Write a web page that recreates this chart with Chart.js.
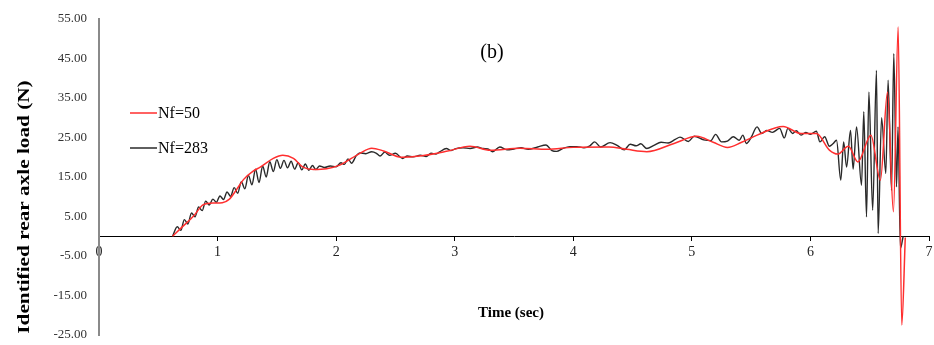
<!DOCTYPE html>
<html>
<head>
<meta charset="utf-8">
<script src="https://cdn.jsdelivr.net/npm/chart.js@4.4.1/dist/chart.umd.min.js"></script>
<style>
  html, body { margin: 0; padding: 0; background: #fff; }
  #wrap { width: 934px; height: 345px; position: relative; }
</style>
</head>
<body>
<div id="wrap"><canvas id="loadChart"></canvas></div>
<script>
// Nf=50 (smooth red curve)
var redTime = [0.62, 0.70, 0.80, 0.88, 0.97, 1.04, 1.10, 1.16, 1.22, 1.30, 1.36, 1.47, 1.55, 1.64, 1.72, 1.81, 1.92, 2.03,
  2.20, 2.30, 2.40, 2.55, 2.70, 2.93, 3.13, 3.30, 3.55, 3.78, 4.00, 4.30, 4.45, 4.62, 4.85, 5.04, 5.18, 5.30, 5.42, 5.55,
  5.77, 5.92, 6.05, 6.16, 6.23, 6.32, 6.40, 6.51, 6.59, 6.65, 6.70, 6.74, 6.77, 6.80];
var redLoad = [0, 2.3, 5.2, 8.0, 8.4, 8.5, 9.4, 11.8, 14.4, 16.5, 17.5, 19.7, 20.5, 19.7, 17.5, 16.9, 17.1, 18.0,
  21.0, 22.3, 21.6, 20.0, 20.3, 21.5, 22.8, 21.8, 22.3, 22.0, 22.5, 22.6, 22.0, 21.4, 23.5, 25.3, 23.8, 22.5, 23.8, 25.6,
  27.8, 26.0, 26.0, 21.8, 20.8, 22.8, 18.8, 25.6, 14.2, 36.5, 6.2, 53.0, -22.5, -0.3];

// Nf=283 (oscillating black curve)
var blackTime = [0.62, 0.66, 0.69, 0.72, 0.75, 0.78, 0.81, 0.84, 0.87, 0.90, 0.93, 0.96, 0.99, 1.02, 1.05, 1.08, 1.11,
  1.14, 1.17, 1.20, 1.23, 1.26, 1.29, 1.32, 1.35, 1.38, 1.41, 1.44, 1.47, 1.50, 1.53, 1.56, 1.59, 1.62, 1.65, 1.68,
  1.71, 1.74, 1.77, 1.80, 1.83, 1.86, 1.90, 1.95, 2.00, 2.04, 2.07, 2.10, 2.13, 2.17, 2.20, 2.25, 2.30, 2.34, 2.37,
  2.41, 2.45, 2.50, 2.56, 2.60, 2.65, 2.71, 2.76, 2.80, 2.84, 2.87, 2.93, 2.97, 3.01, 3.07, 3.13, 3.19, 3.24, 3.28,
  3.32, 3.38, 3.44, 3.50, 3.56, 3.62, 3.70, 3.77, 3.82, 3.86, 3.91, 3.97, 4.03, 4.09, 4.14, 4.18, 4.23, 4.31, 4.37,
  4.43, 4.48, 4.53, 4.57, 4.62, 4.68, 4.74, 4.80, 4.86, 4.90, 4.97, 5.02, 5.10, 5.16, 5.20, 5.25, 5.30, 5.35, 5.40,
  5.43, 5.46, 5.50, 5.55, 5.59, 5.63, 5.68, 5.74, 5.78, 5.81, 5.85, 5.88, 5.92, 5.96, 6.00, 6.05, 6.08, 6.12, 6.16,
  6.19, 6.22, 6.256, 6.28, 6.305, 6.338, 6.36, 6.389, 6.431, 6.45, 6.473, 6.493, 6.525, 6.557, 6.571, 6.60, 6.636,
  6.655, 6.684, 6.703, 6.726, 6.739, 6.759, 6.782];
var blackLoad = [0, 2.4, 1.5, 4.2, 3.1, 5.9, 4.9, 7.4, 6.5, 8.9, 7.9, 9.4, 8.6, 10.2, 9.3, 11.2, 10.1,
  12.3, 10.9, 13.8, 12.0, 15.4, 13.0, 17.0, 13.6, 17.8, 15.0, 18.9, 16.4, 19.4, 17.2, 19.2, 17.3, 19.0, 17.0, 18.6,
  16.8, 18.3, 16.7, 17.9, 16.9, 17.8, 17.4, 17.8, 17.6, 18.6, 18.2, 19.6, 18.5, 20.4, 21.1, 20.9, 21.4, 21.0, 20.3,
  21.3, 20.5, 21.0, 19.7, 20.3, 20.1, 20.5, 20.2, 21.0, 20.8, 21.3, 22.2, 21.7, 22.2, 22.4, 22.2, 22.6, 22.2, 22.1,
  21.4, 22.6, 21.9, 22.1, 22.4, 22.0, 22.6, 23.1, 21.7, 21.5, 22.2, 22.7, 22.7, 22.4, 22.9, 23.9, 22.6, 23.7, 23.0,
  21.9, 23.3, 22.9, 23.4, 22.2, 23.0, 23.8, 23.6, 24.5, 25.1, 24.0, 25.3, 24.4, 24.2, 25.8, 23.9, 24.1, 25.2, 24.3,
  25.6, 23.5, 25.0, 27.7, 26.0, 26.8, 26.3, 27.3, 24.9, 27.3, 26.0, 26.7, 25.6, 26.3, 25.8, 26.6, 23.9, 25.2, 22.8,
  23.4, 24.3, 14.2, 23.9, 17.5, 26.8, 17.0, 27.7, 12.9, 31.5, 4.9, 36.5, 6.6, 42.0, 0.7, 30.0, 15.9,
  39.5, 11.6, 46.2, 12.5, 27.7, -3.1, 0];

var yTicks = [-25, -15, -5, 5, 15, 25, 35, 45, 55];
var xTicks = [0, 1, 2, 3, 4, 5, 6, 7];

function toPoints(t, v) {
  return t.map(function (x, i) { return { x: x, y: v[i] }; });
}

var serif = '"Liberation Serif", "Times New Roman", serif';

// titles and legend drawn by hand to sit where the original puts them
var annotate = {
  id: 'annotate',
  afterDraw: function (chart) {
    var ctx = chart.ctx;
    ctx.save();
    ctx.fillStyle = '#000';
    ctx.textBaseline = 'middle';

    ctx.textAlign = 'center';
    ctx.font = '20px ' + serif;
    ctx.fillText('(b)', 492, 53);

    ctx.font = 'bold 15px ' + serif;
    ctx.fillText('Time (sec)', 511, 313);

    ctx.save();
    ctx.translate(25, 207);
    ctx.rotate(-Math.PI / 2);
    ctx.scale(1.25, 1);
    ctx.font = 'bold 17px ' + serif;
    ctx.fillText('Identified rear axle load (N)', 0, 0);
    ctx.restore();

    // legend
    ctx.textAlign = 'left';
    ctx.font = '16px ' + serif;
    var rows = [113, 148];
    chart.data.datasets.forEach(function (ds, i) {
      ctx.strokeStyle = ds.borderColor;
      ctx.lineWidth = 1.5;
      ctx.beginPath();
      ctx.moveTo(130, rows[i]);
      ctx.lineTo(157, rows[i]);
      ctx.stroke();
      ctx.fillStyle = '#000';
      ctx.fillText(ds.label, 158, rows[i] + 1);
    });
    ctx.restore();
  }
};

var myLoadChart = new Chart(document.getElementById('loadChart'), {
  type: 'line',
  data: {
    datasets: [{
      label: 'Nf=50',
      data: toPoints(redTime, redLoad),
      borderColor: '#ff2e2e',
      borderWidth: 1.5,
      pointRadius: 0,
      cubicInterpolationMode: 'monotone'
    }, {
      label: 'Nf=283',
      data: toPoints(blackTime, blackLoad),
      borderColor: '#2a2a2a',
      borderWidth: 1.4,
      pointRadius: 0,
      cubicInterpolationMode: 'monotone'
    }]
  },
  options: {
    responsive: true,
    maintainAspectRatio: false,
    animation: false,
    layout: { padding: { left: 0, right: 5, top: 19, bottom: 10 } },
    plugins: { legend: { display: false }, tooltip: { enabled: false } },
    scales: {
      x: {
        type: 'linear',
        position: { y: 0 },
        min: 0,
        max: 7,
        afterFit: function (scale) {
          scale.height = 0;
          scale.paddingLeft = 0;
          scale.paddingRight = 0;
        },
        afterBuildTicks: function (scale) {
          scale.ticks = xTicks.map(function (v) { return { value: v }; });
        },
        grid: { drawOnChartArea: false, drawTicks: true, tickLength: 4, color: '#000' },
        border: { color: '#000', width: 1 },
        ticks: {
          padding: 4,
          maxRotation: 0,
          color: '#222',
          font: { family: serif, size: 14 }
        }
      },
      y: {
        min: -25,
        max: 55,
        afterFit: function (scale) {
          scale.width = 99;
          scale.paddingTop = 0;
          scale.paddingBottom = 0;
        },
        afterBuildTicks: function (scale) {
          scale.ticks = yTicks.map(function (v) { return { value: v }; });
        },
        grid: { display: false, drawTicks: false },
        border: { color: '#8a8a8a', width: 2 },
        ticks: {
          padding: 12,
          color: '#333',
          font: { family: serif, size: 13 },
          callback: function (v) { return v.toFixed(2); }
        }
      }
    }
  },
  plugins: [annotate]
});
</script>
</body>
</html>
